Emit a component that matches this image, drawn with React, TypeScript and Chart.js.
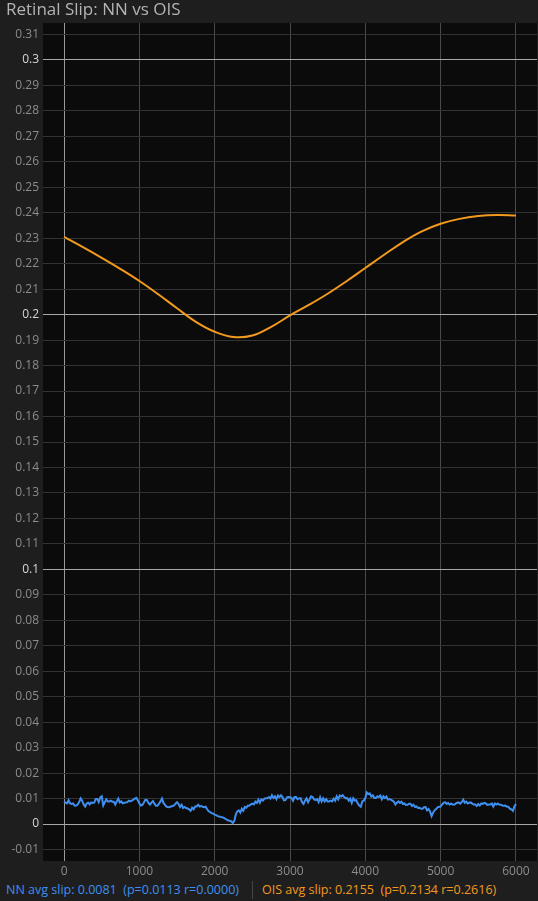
import { useEffect, useRef } from "react";
import { Chart, registerables } from "chart.js";

Chart.register(...registerables);

// OIS slip, sampled every 250 frames
const oisFrames = [
  0, 250, 500, 750, 1000, 1250, 1500, 1750, 2000, 2250, 2500, 2750, 3000,
  3250, 3500, 3750, 4000, 4250, 4500, 4750, 5000, 5250, 5500, 5750, 6000,
];
const oisSlip = [
  0.2305, 0.2265, 0.2223, 0.2179, 0.2132, 0.208, 0.2025, 0.1972, 0.1933,
  0.1912, 0.1918, 0.1952, 0.1997, 0.2038, 0.2082, 0.2131, 0.2183, 0.2235,
  0.2285, 0.2327, 0.2357, 0.2376, 0.2387, 0.2391, 0.2389,
];

// NN slip, one value every 20 frames (0..6000)
const nnFrameStep = 20;
const nnSlip = [
  0.0089, 0.0084, 0.0081, 0.0094, 0.0081, 0.0079, 0.0081, 0.0072, 0.0073, 0.0077,
  0.0086, 0.0101, 0.0092, 0.0077, 0.0069, 0.0081, 0.0084, 0.0077, 0.0085, 0.0083,
  0.0084, 0.0098, 0.0098, 0.0086, 0.0105, 0.0109, 0.0073, 0.0085, 0.0097, 0.0089,
  0.0089, 0.0092, 0.0088, 0.0088, 0.0077, 0.0089, 0.01, 0.0085, 0.0089, 0.0081,
  0.0083, 0.0085, 0.0086, 0.0092, 0.0089, 0.0092, 0.0096, 0.01, 0.0103, 0.0093,
  0.0081, 0.0073, 0.0075, 0.0085, 0.0096, 0.0094, 0.0083, 0.0076, 0.0084, 0.009,
  0.008, 0.0072, 0.0072, 0.008, 0.0089, 0.01, 0.0083, 0.0075, 0.0068, 0.0066,
  0.0067, 0.0069, 0.0071, 0.0073, 0.008, 0.0086, 0.0079, 0.0067, 0.0076, 0.0063,
  0.0067, 0.0063, 0.0061, 0.0058, 0.0052, 0.0064, 0.0058, 0.0069, 0.0069, 0.0076,
  0.0069, 0.0071, 0.0068, 0.0066, 0.0068, 0.0058, 0.005, 0.0047, 0.0043, 0.0041,
  0.0037, 0.0035, 0.0031, 0.003, 0.0028, 0.0027, 0.0024, 0.0021, 0.0017, 0.0014,
  0.0013, 0.0011, 0.0004, 0.0013, 0.0037, 0.005, 0.0054, 0.0045, 0.006, 0.0052,
  0.0067, 0.0064, 0.0073, 0.0072, 0.0077, 0.008, 0.0077, 0.0088, 0.0083, 0.0096,
  0.0084, 0.0097, 0.0092, 0.01, 0.0101, 0.0101, 0.0106, 0.01, 0.0113, 0.0102,
  0.0109, 0.0098, 0.0112, 0.0106, 0.0113, 0.0106, 0.0093, 0.0094, 0.0105, 0.0106,
  0.0105, 0.0103, 0.0092, 0.0106, 0.0106, 0.0098, 0.0101, 0.0102, 0.0086, 0.0079,
  0.0092, 0.0101, 0.0086, 0.0097, 0.0109, 0.0106, 0.0097, 0.0094, 0.0098, 0.0086,
  0.0105, 0.0089, 0.0101, 0.0089, 0.0098, 0.0089, 0.0089, 0.0092, 0.0089, 0.01,
  0.0092, 0.0109, 0.0097, 0.0112, 0.0108, 0.0113, 0.0106, 0.0101, 0.0102, 0.0092,
  0.01, 0.0083, 0.0101, 0.0092, 0.0094, 0.0081, 0.0073, 0.0068, 0.0089, 0.0092,
  0.0102, 0.0124, 0.0118, 0.012, 0.0108, 0.0113, 0.0102, 0.0102, 0.0109, 0.0106,
  0.0112, 0.0097, 0.0109, 0.0102, 0.0108, 0.0096, 0.0098, 0.0096, 0.0092, 0.0088,
  0.0077, 0.0084, 0.0089, 0.0083, 0.0088, 0.0079, 0.0081, 0.0075, 0.0076, 0.008,
  0.008, 0.0071, 0.0076, 0.0067, 0.0069, 0.0063, 0.0064, 0.006, 0.006, 0.0066,
  0.0067, 0.0054, 0.0059, 0.005, 0.0031, 0.0045, 0.0054, 0.0059, 0.0066, 0.0068,
  0.0069, 0.0077, 0.0083, 0.0086, 0.0079, 0.0083, 0.0077, 0.008, 0.0077, 0.0076,
  0.008, 0.0084, 0.0085, 0.008, 0.0086, 0.0096, 0.0084, 0.0088, 0.0081, 0.0084,
  0.0085, 0.008, 0.0077, 0.0077, 0.0071, 0.0079, 0.0073, 0.0081, 0.0079, 0.0083,
  0.0081, 0.0075, 0.0077, 0.0077, 0.0081, 0.0069, 0.0081, 0.0077, 0.0081, 0.0076,
  0.0076, 0.0073, 0.0072, 0.0073, 0.0068, 0.0068, 0.006, 0.0058, 0.0052, 0.0069,
  0.0079,
];

const xTicks = [0, 1000, 2000, 3000, 4000, 5000, 6000];
const yTicks = [
  -0.01, 0, 0.01, 0.02, 0.03, 0.04, 0.05, 0.06, 0.07, 0.08, 0.09, 0.1, 0.11,
  0.12, 0.13, 0.14, 0.15, 0.16, 0.17, 0.18, 0.19, 0.2, 0.21, 0.22, 0.23, 0.24,
  0.25, 0.26, 0.27, 0.28, 0.29, 0.3, 0.31,
];

const title = "Retinal Slip: NN vs OIS";
const nnLabel = "NN avg slip: 0.0081\u00a0\u00a0(p=0.0113 r=0.0000)";
const oisLabel = "OIS avg slip: 0.2155\u00a0\u00a0(p=0.2134 r=0.2616)";

const NN_COLOR = "#3f8ff0";
const OIS_COLOR = "#f39a1e";
const FONT = "'Open Sans', 'Noto Sans', sans-serif";

const isMajor = (v: number) => Math.abs(v * 10 - Math.round(v * 10)) < 1e-9;

const plotBg = {
  id: "plotBg",
  beforeDraw(chart: Chart) {
    const { ctx, chartArea } = chart;
    ctx.save();
    ctx.fillStyle = "#0b0b0b";
    ctx.fillRect(chartArea.left, chartArea.top, chartArea.width, chartArea.height);
    ctx.restore();
  },
};

const SlipChart = () => {
  const canvasRef = useRef<HTMLCanvasElement>(null);
  const chartRef = useRef<Chart | null>(null);

  useEffect(() => {
    if (!canvasRef.current) return;
    if (chartRef.current) chartRef.current.destroy();

    chartRef.current = new Chart(canvasRef.current, {
      type: "line",
      data: {
        datasets: [
          {
            label: "OIS",
            data: oisFrames.map((f, i) => ({ x: f, y: oisSlip[i] })),
            borderColor: OIS_COLOR,
            borderWidth: 2,
            pointRadius: 0,
            tension: 0.4,
          },
          {
            label: "NN",
            data: nnSlip.map((v, i) => ({ x: i * nnFrameStep, y: v })),
            borderColor: NN_COLOR,
            borderWidth: 2,
            pointRadius: 0,
            tension: 0,
          },
        ],
      },
      options: {
        animation: false,
        responsive: true,
        maintainAspectRatio: false,
        layout: { padding: { top: 23, right: 1, left: 0, bottom: 0 } },
        plugins: {
          legend: { display: false },
          tooltip: { enabled: false },
          title: { display: false },
        },
        scales: {
          x: {
            type: "linear",
            min: -280,
            max: 6280,
            afterBuildTicks: (scale: any) => {
              scale.ticks = xTicks.map((v) => ({ value: v }));
            },
            afterFit: (scale: any) => {
              scale.height = 19;
            },
            grid: {
              color: (ctx: any) => (ctx.tick && ctx.tick.value === 0 ? "#9a9a9a" : "#4a4a4a"),
              drawTicks: false,
            },
            border: { display: false },
            ticks: {
              color: "#8c8c8c",
              font: { size: 12, family: FONT },
              padding: 3,
              maxRotation: 0,
              autoSkip: false,
              callback: (value: any) => String(value),
            },
          },
          y: {
            type: "linear",
            min: -0.0145,
            max: 0.3145,
            afterBuildTicks: (scale: any) => {
              scale.ticks = yTicks.map((v) => ({ value: v }));
            },
            afterFit: (scale: any) => {
              scale.width = 43;
            },
            grid: {
              color: (ctx: any) =>
                ctx.tick && isMajor(ctx.tick.value) ? "#a8a8a8" : "#333333",
              drawTicks: false,
            },
            border: { display: false },
            ticks: {
              color: (ctx: any) =>
                ctx.tick && isMajor(ctx.tick.value) ? "#d6d6d6" : "#8c8c8c",
              font: { size: 12, family: FONT },
              padding: 4,
              autoSkip: false,
              callback: (value: any) => String(Number(Number(value).toFixed(2))),
            },
          },
        },
      },
      plugins: [plotBg],
    });

    return () => {
      if (chartRef.current) {
        chartRef.current.destroy();
        chartRef.current = null;
      }
    };
  }, []);

  return <canvas ref={canvasRef} />;
};

export default function App() {
  return (
    <div
      style={{
        position: "fixed",
        left: 0,
        top: 0,
        width: 538,
        height: 901,
        background: "#1e1e1e",
        fontFamily: FONT,
        overflow: "hidden",
      }}
    >
      <div style={{ position: "absolute", left: 0, top: 0, width: 538, height: 880 }}>
        <SlipChart />
      </div>
      {/* title */}
      <div
        style={{
          position: "absolute",
          left: 6,
          top: -3,
          fontSize: 17,
          color: "#b4b4b4",
          whiteSpace: "nowrap",
        }}
      >
        {title}
      </div>
      {/* bottom stats line */}
      <div
        style={{
          position: "absolute",
          left: 6,
          top: 880,
          height: 20,
          lineHeight: "20px",
          fontSize: 12.5,
          color: NN_COLOR,
          whiteSpace: "nowrap",
        }}
      >
        {nnLabel}
      </div>
      <div
        style={{
          position: "absolute",
          left: 252,
          top: 881,
          width: 1,
          height: 18,
          background: "#444",
        }}
      />
      <div
        style={{
          position: "absolute",
          left: 262,
          top: 880,
          height: 20,
          lineHeight: "20px",
          fontSize: 12.5,
          color: OIS_COLOR,
          whiteSpace: "nowrap",
        }}
      >
        {oisLabel}
      </div>
    </div>
  );
}
